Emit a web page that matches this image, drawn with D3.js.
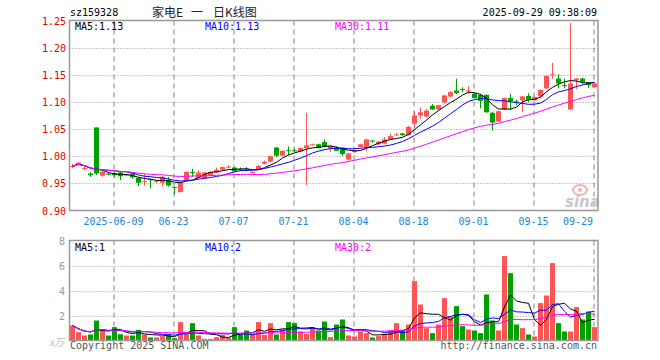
<!DOCTYPE html>
<html>
<head>
<meta charset="utf-8">
<script src="https://cdn.jsdelivr.net/npm/d3@7"></script>
<style>
  body { margin: 0; background: #fff; }
  svg text { font-family: "DejaVu Sans Mono", monospace; font-size: 10px; }
</style>
</head>
<body>
<div class="chartHolder"></div>
<script>
// trading days shown on the chart
var dates = [
  "2025-05-28","2025-05-29","2025-05-30","2025-06-03","2025-06-04","2025-06-05","2025-06-06",
  "2025-06-09","2025-06-10","2025-06-11","2025-06-12","2025-06-13",
  "2025-06-16","2025-06-17","2025-06-18","2025-06-19","2025-06-20",
  "2025-06-23","2025-06-24","2025-06-25","2025-06-26","2025-06-27",
  "2025-06-30","2025-07-01","2025-07-02","2025-07-03","2025-07-04",
  "2025-07-07","2025-07-08","2025-07-09","2025-07-10","2025-07-11",
  "2025-07-14","2025-07-15","2025-07-16","2025-07-17","2025-07-18",
  "2025-07-21","2025-07-22","2025-07-23","2025-07-24","2025-07-25",
  "2025-07-28","2025-07-29","2025-07-30","2025-07-31","2025-08-01",
  "2025-08-04","2025-08-05","2025-08-06","2025-08-07","2025-08-08",
  "2025-08-11","2025-08-12","2025-08-13","2025-08-14","2025-08-15",
  "2025-08-18","2025-08-19","2025-08-20","2025-08-21","2025-08-22",
  "2025-08-25","2025-08-26","2025-08-27","2025-08-28","2025-08-29",
  "2025-09-01","2025-09-02","2025-09-03","2025-09-04","2025-09-05",
  "2025-09-08","2025-09-09","2025-09-10","2025-09-11","2025-09-12",
  "2025-09-15","2025-09-16","2025-09-17","2025-09-18","2025-09-19",
  "2025-09-22","2025-09-23","2025-09-24","2025-09-25","2025-09-26",
  "2025-09-29"
];

var open = [
  0.981,0.984,0.977,0.968,1.053,0.964,0.968,0.969,0.970,0.965,
  0.968,0.960,0.953,0.958,0.954,0.951,0.956,0.943,0.934,0.956,
  0.971,0.960,0.959,0.965,0.970,0.975,0.980,0.979,0.976,0.977,
  0.970,0.976,0.986,0.990,1.016,1.001,1.011,1.011,1.009,1.015,
  1.021,1.022,1.026,1.014,1.016,1.016,0.994,1.008,1.017,1.015,
  1.029,1.022,1.023,1.031,1.040,1.042,1.039,1.060,1.075,1.073,
  1.093,1.086,1.099,1.110,1.121,1.124,1.120,1.115,1.113,1.113,
  1.080,1.064,1.086,1.107,1.101,1.103,1.111,1.103,1.110,1.125,
  1.150,1.143,1.131,1.086,1.140,1.143,1.136,1.127
];
var high = [
  0.986,0.989,0.981,0.971,1.053,0.973,0.970,0.971,0.971,0.967,
  0.969,0.961,0.968,0.959,0.957,0.963,0.962,0.944,0.952,0.972,
  0.977,0.974,0.971,0.972,0.979,0.981,0.983,0.980,0.979,0.980,
  0.972,0.984,0.992,1.001,1.017,1.011,1.018,1.014,1.016,1.080,
  1.023,1.023,1.031,1.020,1.018,1.017,1.006,1.012,1.023,1.032,
  1.029,1.028,1.035,1.042,1.043,1.043,1.056,1.083,1.090,1.087,
  1.096,1.095,1.113,1.120,1.143,1.127,1.129,1.117,1.115,1.114,
  1.082,1.084,1.108,1.115,1.104,1.111,1.116,1.110,1.123,1.149,
  1.172,1.151,1.143,1.245,1.144,1.145,1.137,1.135
];
var low = [
  0.978,0.983,0.974,0.962,0.965,0.962,0.965,0.962,0.956,0.963,
  0.959,0.945,0.946,0.941,0.950,0.944,0.944,0.930,0.933,0.955,
  0.962,0.959,0.958,0.963,0.969,0.974,0.978,0.971,0.973,0.972,
  0.968,0.975,0.985,0.989,0.998,1.000,1.002,1.007,1.008,0.947,
  1.020,1.014,1.016,1.008,1.010,1.001,0.992,1.006,1.016,1.009,
  1.025,1.021,1.022,1.030,1.038,1.037,1.038,1.052,1.069,1.072,
  1.085,1.085,1.097,1.108,1.115,1.118,1.115,1.106,1.088,1.080,
  1.047,1.063,1.085,1.085,1.094,1.081,1.100,1.102,1.109,1.124,
  1.143,1.125,1.125,1.085,1.124,1.132,1.126,1.126
];
var close = [
  0.982,0.988,0.978,0.965,0.968,0.971,0.967,0.965,0.963,0.966,
  0.961,0.951,0.954,0.956,0.955,0.962,0.946,0.942,0.951,0.971,
  0.970,0.970,0.970,0.971,0.975,0.980,0.981,0.972,0.975,0.976,
  0.971,0.982,0.990,1.000,1.001,1.010,1.010,1.010,1.015,1.020,
  1.022,1.015,1.018,1.019,1.010,1.004,1.005,1.011,1.022,1.031,
  1.028,1.027,1.031,1.037,1.040,1.039,1.054,1.075,1.081,1.084,
  1.086,1.094,1.112,1.118,1.116,1.123,1.121,1.107,1.102,1.081,
  1.062,1.083,1.107,1.101,1.099,1.110,1.104,1.109,1.122,1.148,
  1.151,1.134,1.130,1.134,1.143,1.137,1.131,1.134
];
// volume, in units of 万
var volume = [
  1.2,0.67,0.4,0.48,1.6,0.88,0.4,1.07,0.5,0.4,
  0.4,0.85,0.48,0.24,0.24,0.35,0.48,0.19,1.47,0.5,
  1.39,0.4,0.13,0.13,0.27,0.45,0.24,1.07,0.48,0.8,
  0.48,1.47,0.45,1.39,0.48,0.88,1.47,1.39,0.72,0.53,
  1.07,0.8,1.52,0.27,1.28,1.68,0.4,0.32,0.72,0.59,
  0.24,0.35,0.53,0.8,1.39,0.8,1.28,4.75,2.88,0.99,
  0.59,1.28,3.39,1.92,2.75,1.15,0.88,0.8,0.59,3.68,
  1.6,0.8,6.75,5.39,1.28,0.99,0.48,0.32,2.99,3.6,
  6.19,1.39,0.72,0.72,2.67,1.68,2.32,1.07
];

var tickDates = ["2025-06-09","2025-06-23","2025-07-07","2025-07-21","2025-08-04",
                 "2025-08-18","2025-09-01","2025-09-15","2025-09-29"];
var tickLabels = ["2025-06-09","06-23","07-07","07-21","08-04","08-18","09-01","09-15","09-29"];
var priceTicks = [0.90,0.95,1.00,1.05,1.10,1.15,1.20,1.25];
var volTicks = [2,4,6,8];
var titleParts = ["家电E","一","日K线图"];
var priceMaLabels = ["MA5:1.13","MA10:1.13","MA30:1.11"];
var volMaLabels = ["MA5:1","MA10:2","MA30:2"];
var maPeriods = [5,10,30];
var maColors = ["#000","#00f","#f0f"];

var width = 660, height = 360;
var left = 69.5, right = 598;
var red = "#ff5454", green = "#00a000";

var svg = d3.select(".chartHolder").append("svg")
  .attr("width", width).attr("height", height);

var x = d3.scaleBand().domain(dates).range([left, 597.5]);
var y = d3.scaleLinear().domain([0.90, 1.25]).range([210.5, 20.5]);
var yv = d3.scaleLinear().domain([0, 8]).range([340.5, 240.5]);

// moving average over the available window
function movingAvg(arr, n) {
  return arr.map(function (d, i) {
    return d3.mean(arr.slice(Math.max(0, i - n + 1), i + 1));
  });
}

function isUp(i) { return close[i] >= open[i]; }

// title row
svg.append("text").attr("x", 70).attr("y", 16).text("sz159328");
svg.append("g").selectAll("text").data(titleParts).enter().append("text")
  .attr("x", function (d, i) { return [152, 191, 213][i]; })
  .attr("y", 17)
  .style("font-family", "'Noto Sans CJK SC', sans-serif").style("font-size", "12px")
  .attr("fill", "#222")
  .text(function (d) { return d; });
svg.append("text").attr("x", 597).attr("y", 16).attr("text-anchor", "end")
  .text("2025-09-29 09:38:09");

// grids
function grid(top, bottom, hTicks, scale) {
  svg.append("g").selectAll("line").data(hTicks).enter().append("line")
    .attr("x1", left).attr("x2", right)
    .attr("y1", function (d) { return Math.round(scale(d)) + 0.5; })
    .attr("y2", function (d) { return Math.round(scale(d)) + 0.5; })
    .attr("stroke", "#999").attr("stroke-dasharray", "1,2");
  svg.append("g").selectAll("line").data(tickDates).enter().append("line")
    .attr("x1", function (d) { return x(d) + 2.5; })
    .attr("x2", function (d) { return x(d) + 2.5; })
    .attr("y1", top).attr("y2", bottom)
    .attr("stroke", "#aaa").attr("stroke-width", 1.5).attr("stroke-dasharray", "5,4");
}
grid(20.5, 210.5, [0.95, 1.00, 1.05, 1.10, 1.15, 1.20], y);
grid(240.5, 340.5, [2, 4, 6], yv);

// price axis labels
svg.append("g").selectAll("text").data(priceTicks).enter().append("text")
  .attr("x", 66).attr("y", function (d) { return y(d) + 4; })
  .attr("text-anchor", "end").attr("fill", "#e00000")
  .text(function (d) { return d.toFixed(2); });

// date labels
svg.append("g").selectAll("text").data(tickDates).enter().append("text")
  .attr("x", function (d, i) { return i === tickDates.length - 1 ? 593 : x(d) + 2; })
  .attr("y", 225)
  .attr("text-anchor", function (d, i) { return i === tickDates.length - 1 ? "end" : "middle"; })
  .attr("fill", "#1a88d8")
  .text(function (d, i) { return tickLabels[i]; });

// volume axis labels
svg.append("g").selectAll("text").data(volTicks).enter().append("text")
  .attr("x", 65).attr("y", function (d) { return yv(d) + 4; })
  .attr("text-anchor", "end").attr("fill", "#999")
  .text(function (d) { return d; });
svg.append("text").attr("x", 49).attr("y", 346).attr("fill", "#bbb")
  .style("font-family", "'Noto Sans CJK SC', sans-serif").style("font-size", "10px")
  .style("font-style", "italic").text("x万");

// sina watermark
svg.append("ellipse").attr("cx", 580).attr("cy", 190).attr("rx", 7).attr("ry", 5)
  .attr("fill", "none").attr("stroke", "#f4b0b0").attr("stroke-width", 2);
svg.append("circle").attr("cx", 580).attr("cy", 190).attr("r", 2).attr("fill", "#f4b0b0");
svg.append("text").attr("x", 565).attr("y", 207)
  .style("font-family", "'DejaVu Sans', sans-serif").style("font-size", "15px")
  .style("font-weight", "bold").style("font-style", "italic")
  .attr("fill", "#c8c8c8").text("sina");

// candles
var idx = d3.range(dates.length);
var candles = svg.append("g");
candles.selectAll("line").data(idx).enter().append("line")
  .attr("x1", function (i) { return x(dates[i]) + 3; })
  .attr("x2", function (i) { return x(dates[i]) + 3; })
  .attr("y1", function (i) { return y(high[i]); })
  .attr("y2", function (i) { return y(low[i]); })
  .attr("stroke", function (i) { return isUp(i) ? red : green; });
candles.selectAll("rect").data(idx).enter().append("rect")
  .attr("x", function (i) { return x(dates[i]) + 0.5; })
  .attr("width", 5)
  .attr("y", function (i) { return y(Math.max(open[i], close[i])); })
  .attr("height", function (i) { return Math.max(1, Math.abs(y(open[i]) - y(close[i]))); })
  .attr("fill", function (i) { return isUp(i) ? red : green; });

// volume bars
svg.append("g").selectAll("rect").data(idx).enter().append("rect")
  .attr("x", function (i) { return x(dates[i]) + 0.5; })
  .attr("width", 5)
  .attr("y", function (i) { return yv(volume[i]); })
  .attr("height", function (i) { return yv(0) - yv(volume[i]); })
  .attr("fill", function (i) { return isUp(i) ? red : green; });

// moving average lines
maPeriods.forEach(function (n, k) {
  var pm = movingAvg(close, n);
  var vm = movingAvg(volume, n);
  var line = d3.line().x(function (d, i) { return x(dates[i]) + 3; });
  svg.append("path").datum(pm)
    .attr("d", line.y(function (d) { return y(d); }))
    .attr("fill", "none").attr("stroke", maColors[k]).attr("stroke-width", 1);
  svg.append("path").datum(vm)
    .attr("d", line.y(function (d) { return yv(d); }))
    .attr("fill", "none").attr("stroke", maColors[k]).attr("stroke-width", 1);
  svg.append("text").attr("x", 75 + k * 130).attr("y", 30)
    .attr("fill", maColors[k]).text(priceMaLabels[k]);
  svg.append("text").attr("x", 75 + k * 130).attr("y", 251)
    .attr("fill", maColors[k]).text(volMaLabels[k]);
});

// frames
svg.append("rect").attr("x", left).attr("y", 20.5).attr("width", right - left).attr("height", 190)
  .attr("fill", "none").attr("stroke", "#999").attr("stroke-width", 1.5);
svg.append("rect").attr("x", left).attr("y", 240.5).attr("width", right - left).attr("height", 100)
  .attr("fill", "none").attr("stroke", "#999").attr("stroke-width", 1.5);

// footer
svg.append("text").attr("x", 70).attr("y", 349).attr("fill", "#555").text("Copyright 2025 SINA.COM");
svg.append("text").attr("x", 597).attr("y", 349).attr("text-anchor", "end")
  .attr("fill", "#555").text("http://finance.sina.com.cn");
</script>
</body>
</html>
